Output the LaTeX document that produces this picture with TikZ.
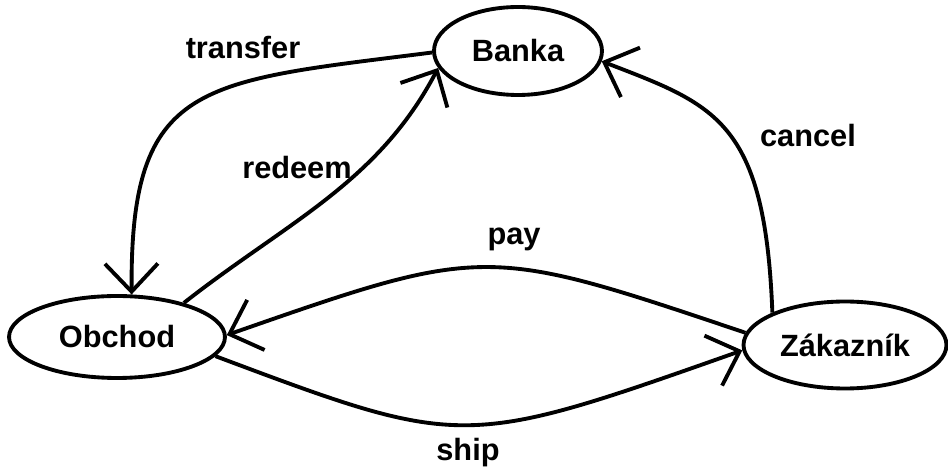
\documentclass[tikz,border=0pt]{standalone}
\usepackage{fontspec}
\setmainfont{Liberation Sans}
\usetikzlibrary{arrows.meta,shapes.geometric}
\tikzset{
  party/.style ={ellipse,draw,line width=2.2pt,inner sep=0pt,font=\bfseries\fontsize{17.5}{20}\selectfont},
  msg/.style   ={inner sep=0pt,font=\bfseries\fontsize{17.5}{20}\selectfont},
  flow/.style  ={line width=2.2pt,-{Straight Barb[length=5.6mm,width=10.6mm]}},
}
\begin{document}
\begin{tikzpicture}[x=0.02cm,y=-0.02cm]
  \useasboundingbox (0,0) rectangle (948,469);
  \node[party,minimum width=3.36cm,minimum height=1.76cm] (banka)    at (518,51)  {Banka};
  \node[party,minimum width=4.32cm,minimum height=1.64cm] (obchod)   at (117,337) {Obchod};
  \node[party,minimum width=4.06cm,minimum height=1.74cm] (zakaznik) at (845,345) {Zákazník};
  \draw[flow] (banka.181) .. controls (200,82) and (130,80) .. (obchod.71);
  \draw[flow] (obchod.27) .. controls (287,222) and (378,183) .. (banka.192);
  \draw[flow] (zakaznik.156) .. controls (765,120) and (715,105) .. (banka.-7);
  \draw[flow] (zakaznik.173) .. controls (485,245) .. (obchod.1);
  \draw[flow] (obchod.-11) .. controls (463,449) .. (zakaznik.183);
  \node[msg] (ltransfer) at (243,48)  {transfer};
  \node[msg] (lredeem)   at (297,168) {redeem};
  \node[msg] (lcancel)   at (808,136) {cancel};
  \node[msg] (lpay)      at (514,239) {pay};
  \node[msg] (lship)     at (468,453) {ship};
\end{tikzpicture}
\end{document}
